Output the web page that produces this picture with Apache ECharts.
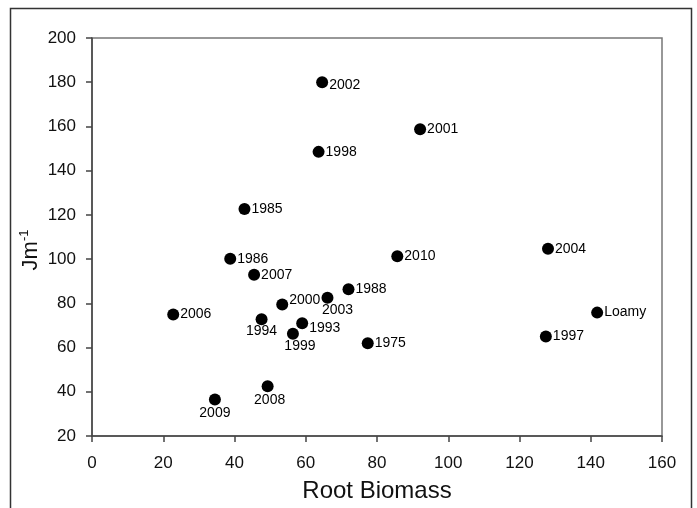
<!DOCTYPE html>
<html>
<head>
<meta charset="utf-8">
<script src="https://cdn.jsdelivr.net/npm/echarts@6/dist/echarts.min.js"></script>
<style>
  html, body { margin: 0; padding: 0; background: #fff; }
  #chart { width: 697px; height: 508px; }
</style>
</head>
<body>
<div id="chart"></div>
<script>
// point names (years + soil)
var names = ['2002', '2001', '1998', '1985', '1986', '2007', '2000', '2003', '1988', '2010',
             '2004', 'Loamy', '1997', '1975', '1993', '1999', '1994', '2006', '2009', '2008'];
// root biomass (x)
var rootBiomass = [64.6, 92.1, 63.6, 42.8, 38.8, 45.5, 53.4, 66.1, 72.0, 85.7,
                   128.0, 141.8, 127.4, 77.4, 59.0, 56.4, 47.6, 22.8, 34.5, 49.3];
// Jm-1 (y)
var jm = [180.0, 158.7, 148.5, 122.7, 100.2, 92.9, 79.5, 82.5, 86.4, 101.3,
          104.7, 75.8, 65.0, 62.0, 71.0, 66.2, 72.8, 74.9, 36.5, 42.5];
var xTicks = [0, 20, 40, 60, 80, 100, 120, 140, 160];
var yTicks = [20, 40, 60, 80, 100, 120, 140, 160, 180, 200];

// label placement for crowded points
var labelPlace = {
    '2003': {position: 'bottom', offset: [10, -2]},
    '1994': {position: 'bottom', offset: [0, -2]},
    '1999': {position: 'bottom', offset: [7, -2]},
    '2009': {position: 'bottom', offset: [0, 0]},
    '2008': {position: 'bottom', offset: [2, 0]},
    '2000': {position: 'right', offset: [0, -4]},
    '1993': {position: 'right', offset: [0, 5]},
    '2002': {position: 'right', offset: [0, 3]}
};

var points = names.map(function (n, i) {
    var item = {name: n, value: [rootBiomass[i], jm[i]]};
    if (labelPlace[n]) {
        item.label = {position: labelPlace[n].position, offset: labelPlace[n].offset};
    }
    return item;
});

var chart = echarts.init(document.getElementById('chart'), null, {renderer: 'canvas'});
var font = 'Liberation Sans, Arial, sans-serif';

var option = {
    backgroundColor: '#fff',
    animation: false,
    textStyle: {fontFamily: font},
    grid: {left: 92, top: 38, right: 35, bottom: 70, show: true, borderColor: '#777', borderWidth: 1.5},
    graphic: [{
        type: 'rect',
        shape: {x: 10.5, y: 8.5, width: 681, height: 520},
        style: {fill: 'none', stroke: '#333', lineWidth: 1.5},
        silent: true
    }, {
        // y axis title, rotated, with superscript
        type: 'text',
        x: 31, y: 250,
        rotation: Math.PI / 2,
        silent: true,
        style: {
            text: '{a|Jm}{b|-1}',
            align: 'center',
            verticalAlign: 'middle',
            fill: '#111',
            font: '22px ' + font,
            rich: {
                a: {fontSize: 22, fill: '#111', fontFamily: font, lineHeight: 26},
                b: {fontSize: 13, fill: '#111', fontFamily: font, verticalAlign: 'top', lineHeight: 26, padding: [0, 0, 10, 0]}
            }
        }
    }],
    xAxis: {
        type: 'value',
        min: 0, max: 160, interval: 20,
        name: 'Root Biomass',
        nameLocation: 'middle',
        nameGap: 43,
        nameTextStyle: {fontSize: 24, color: '#111', fontFamily: font},
        axisLine: {lineStyle: {color: '#444', width: 1.5}},
        axisTick: {length: 6, lineStyle: {color: '#444', width: 1.5}},
        axisLabel: {fontSize: 17, color: '#111', margin: 19, fontFamily: font,
            formatter: function (v) { return xTicks.indexOf(v) >= 0 ? String(v) : ''; }},
        splitLine: {show: false}
    },
    yAxis: {
        type: 'value',
        min: 20, max: 200, interval: 20,
        axisLine: {show: true, lineStyle: {color: '#444', width: 1.5}},
        axisTick: {show: true, length: 6, lineStyle: {color: '#444', width: 1.5}},
        axisLabel: {fontSize: 17, color: '#111', margin: 16, fontFamily: font,
            formatter: function (v) { return yTicks.indexOf(v) >= 0 ? String(v) : ''; }},
        splitLine: {show: false}
    },
    series: [{
        type: 'scatter',
        symbol: 'circle',
        symbolSize: 12,
        itemStyle: {color: '#000', opacity: 1},
        label: {
            show: true,
            position: 'right',
            distance: 1,
            fontSize: 14,
            color: '#000',
            fontFamily: font,
            formatter: '{b}'
        },
        data: points
    }]
};

chart.setOption(option);
</script>
</body>
</html>
